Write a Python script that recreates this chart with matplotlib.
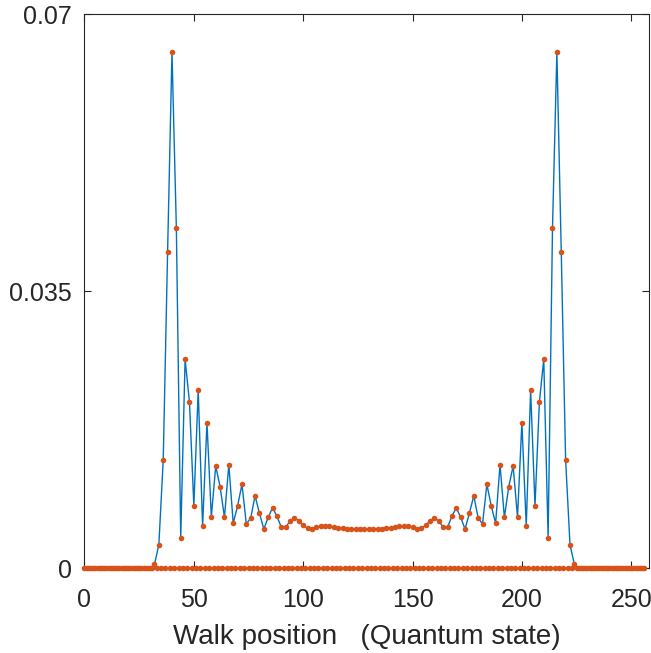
import numpy as np
import matplotlib
matplotlib.use("Agg")
import matplotlib.pyplot as plt

plt.rcParams['font.family'] = ['Liberation Sans', 'DejaVu Sans']

# Walk positions 0..256
positions = list(range(0, 257))

# Probability at even positions 32..224
even_pos = list(range(32, 226, 2))
even_prob = [
    0.0005, 0.00298, 0.01368, 0.0400, 0.0652, 0.0430, 0.00387, 0.0264,
    0.0210, 0.00791, 0.0225, 0.00534, 0.0184, 0.00648, 0.01293, 0.01031,
    0.00644, 0.01309, 0.00569, 0.00787, 0.01061, 0.0056, 0.00636, 0.00917,
    0.00695, 0.00497, 0.00644, 0.00766, 0.00657, 0.00518, 0.00518, 0.00598,
    0.00636, 0.00601, 0.00543, 0.00505, 0.0050, 0.00518, 0.00531, 0.00534,
    0.00531, 0.00522, 0.00513, 0.00505, 0.0050, 0.00497, 0.00497, 0.00497,
    0.00497,
    0.00497, 0.00497, 0.00497, 0.0050, 0.00505, 0.00513, 0.00522, 0.00531,
    0.00534, 0.00531, 0.00518, 0.0050, 0.00505, 0.00543, 0.00601, 0.00636,
    0.00598, 0.00518, 0.00518, 0.00657, 0.00766, 0.00644, 0.00497, 0.00695,
    0.00917, 0.00636, 0.0056, 0.01061, 0.00787, 0.00569, 0.01309, 0.00644,
    0.01031, 0.01293, 0.00648, 0.0184, 0.00534, 0.0225, 0.00791, 0.0210,
    0.0264, 0.00387, 0.0430, 0.0652, 0.0400, 0.01368, 0.00298, 0.0005,
]

prob = np.zeros(len(positions))
for p, v in zip(even_pos, even_prob):
    prob[p] = v

xt = [0, 50, 100, 150, 200, 250]
yt = [0, 0.035, 0.07]
ytl = ['0', '0.035', '0.07']

fig = plt.figure(figsize=(6.51, 6.53), dpi=100)
ax = fig.add_axes([0.1298, 0.1297, 0.8667, 0.8484])

pos_arr = np.array(positions)
even_mask = pos_arr % 2 == 0
ax.plot(pos_arr[even_mask], prob[even_mask], '-', color='#0072BD', lw=1.0, zorder=2)
ax.plot(pos_arr, prob, 'o', color='#D95319', ms=4.0, mew=0, zorder=3, clip_on=False)

ax.set_xlim(0, 258)
ax.set_ylim(0, 0.07)
ax.set_xticks(xt)
ax.set_yticks(yt)
ax.set_yticklabels(ytl)
ax.tick_params(direction='in', top=True, right=True, length=5, width=0.8,
               colors='#262626', labelsize=18)
ax.tick_params(axis='y', pad=9)
ax.tick_params(axis='x', pad=14.5)
for s in ax.spines.values():
    s.set_color('#262626')
    s.set_linewidth(0.8)
ax.set_xlabel('Walk position   (Quantum state)', fontsize=20, color='#262626', labelpad=8)

fig.savefig('out.png', dpi=100)
